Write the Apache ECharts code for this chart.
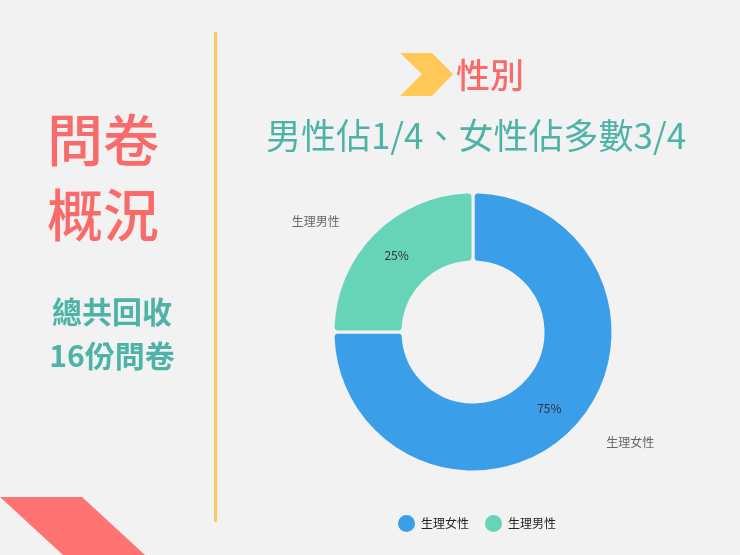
<!DOCTYPE html>
<html><head><meta charset="utf-8">
<script src="https://cdn.jsdelivr.net/npm/echarts@6/dist/echarts.min.js"></script>
<style>html,body{margin:0;padding:0;background:#f2f2f2;}#c{width:740px;height:555px;}</style>
</head><body><div id="c"></div>
<script>
const categories = ['生理女性', '生理男性'];
const values = [12, 4];
const colors = ['#3a9fe8', '#67d4b8'];
const sectionTitle = '性別';
const headline = '男性佔1/4、女性佔多數3/4';
const sideTitle = ['問卷', '概況'];
const sideNote = ['總共回收', '16份問卷'];

const FONT = '"Noto Sans CJK TC", "Noto Sans", sans-serif';
const chart = echarts.init(document.getElementById('c'));
const data = categories.map((n, i) => ({ name: n, value: values[i], itemStyle: { color: colors[i] } }));
const ghostData = categories.map((n, i) => ({ name: n, value: values[i] }));

chart.setOption({
  backgroundColor: '#f2f2f2',
  color: colors,
  textStyle: { fontFamily: FONT },
  legend: {
    data: categories,
    left: 391, top: 508,
    icon: 'circle', itemWidth: 19, itemHeight: 19, itemGap: 14,
    textStyle: { fontSize: 12, color: '#222', fontFamily: FONT }
  },
  series: [
    {
      type: 'pie', center: [473, 332], radius: [70, 140], startAngle: 90,
      data: data,
      itemStyle: { borderColor: '#f2f2f2', borderWidth: 3, borderRadius: 5 },
      label: { position: 'inside', formatter: (p) => Math.round(p.percent) + '%', fontSize: 12, color: '#333', fontFamily: FONT },
      emphasis: { disabled: true }
    },
    {
      type: 'pie', center: [473, 332], radius: [70, 140], startAngle: 90,
      data: ghostData, silent: true,
      itemStyle: { color: 'rgba(0,0,0,0)', borderWidth: 0 },
      label: { position: 'outside', formatter: '{b}', fontSize: 12, color: '#666', fontFamily: FONT },
      labelLine: { show: false, length: 16, length2: 18 },
      emphasis: { disabled: true }
    }
  ],
  graphic: [
    { type: 'rect', shape: { x: 214, y: 32, width: 3, height: 490 }, style: { fill: '#ffc85a' } },
    { type: 'polygon', shape: { points: [[0, 497], [82, 497], [145, 555], [63, 555]] }, style: { fill: '#ff7373' } },
    { type: 'polygon', shape: { points: [[400, 53], [432, 53], [453, 74], [432, 96], [400, 96], [422, 74]] }, style: { fill: '#ffc857' } },
    { type: 'text', x: 456, y: 75, style: { text: sectionTitle, fill: '#f96a6a', font: '500 34px ' + FONT, textVerticalAlign: 'middle' } },
    { type: 'text', x: 476, y: 136, style: { text: headline, fill: '#4db3a6', font: '35px ' + FONT, textAlign: 'center', textVerticalAlign: 'middle' } },
    { type: 'text', x: 103, y: 140, style: { text: sideTitle[0], fill: '#f96a6a', font: '500 56px ' + FONT, textAlign: 'center', textVerticalAlign: 'middle' } },
    { type: 'text', x: 103, y: 215, style: { text: sideTitle[1], fill: '#f96a6a', font: '500 56px ' + FONT, textAlign: 'center', textVerticalAlign: 'middle' } },
    { type: 'text', x: 112, y: 312, style: { text: sideNote[0], fill: '#4db3a6', font: 'bold 30px ' + FONT, textAlign: 'center', textVerticalAlign: 'middle' } },
    { type: 'text', x: 112, y: 356, style: { text: sideNote[1], fill: '#4db3a6', font: 'bold 30px ' + FONT, textAlign: 'center', textVerticalAlign: 'middle' } }
  ]
});
</script></body></html>
